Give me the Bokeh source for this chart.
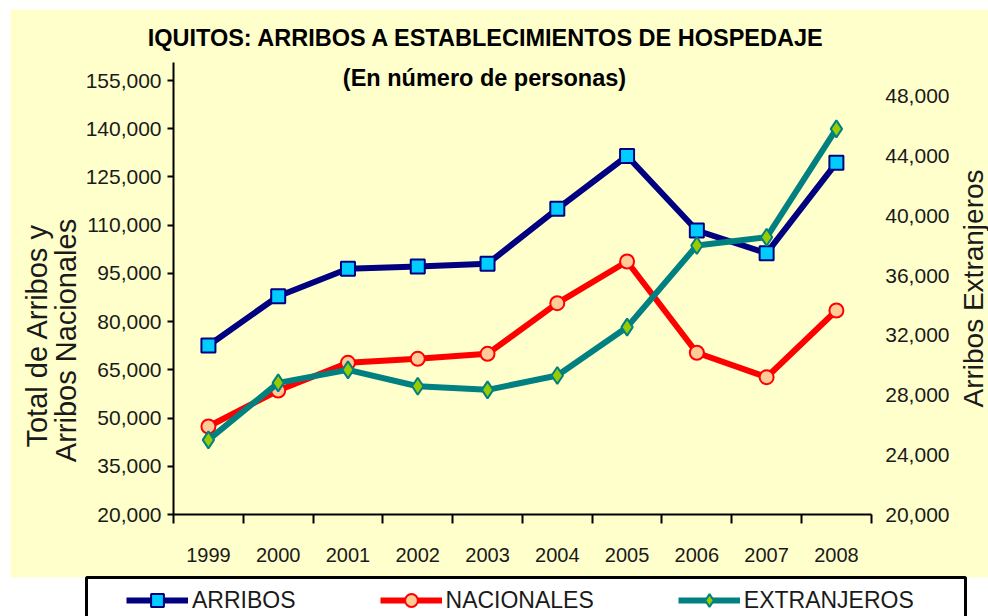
from math import pi
from bokeh.plotting import figure
from bokeh.models import (Range1d, LinearAxis, FixedTicker, NumeralTickFormatter,
                          Label, Legend, LegendItem, BoxAnnotation)
from bokeh.embed import file_html
from bokeh.resources import INLINE

# ---------------- data ----------------
years = ["1999", "2000", "2001", "2002", "2003", "2004", "2005", "2006", "2007", "2008"]
year_pos = [1999, 2000, 2001, 2002, 2003, 2004, 2005, 2006, 2007, 2008]
arribos = [72580, 87910, 96440, 97150, 97990, 115100, 131530, 108350, 101290, 129410]
nacionales = [47380, 58580, 67190, 68440, 69990, 85740, 98710, 70310, 62710, 83460]
extranjeros = [25000, 28820, 29690, 28590, 28350, 29310, 32550, 38020, 38570, 45830]
left_ticks = [20000, 35000, 50000, 65000, 80000, 95000, 110000, 125000, 140000, 155000]
right_ticks = [20000, 24000, 28000, 32000, 36000, 40000, 44000, 48000]

title_text = "IQUITOS: ARRIBOS A ESTABLECIMIENTOS DE HOSPEDAJE"
subtitle_text = "(En número de personas)"
left_title = ["Total de Arribos y", "Arribos Nacionales"]
right_title = "Arribos Extranjeros"
series_names = ["ARRIBOS", "NACIONALES", "EXTRANJEROS"]

# ---------------- style ----------------
BG = "#FFFFCC"
FONT = "Liberation Sans"
TXT = "#1a1a1a"
W, H = 988, 616

# The plot frame fills the whole canvas; axes are pinned at fixed data locations
p = figure(width=W, height=H, output_backend="svg", toolbar_location=None,
           x_range=Range1d(1996.02, 2010.18), y_range=Range1d(-11730, 179900),
           min_border=0, min_border_left=0, min_border_right=0,
           min_border_top=0, min_border_bottom=0,
           background_fill_color=BG, border_fill_color=BG, outline_line_color=None)
p.title.visible = False
p.extra_y_ranges = {"ext": Range1d(13170, 54430)}
p.xgrid.visible = False
p.ygrid.visible = False

x_lo, x_hi = year_pos[0] - 0.5, year_pos[-1] + 0.5
bounds = [y - 0.5 for y in year_pos] + [x_hi]

xa = p.xaxis[0]
xa.fixed_location = left_ticks[0]
xa.bounds = (x_lo, x_hi)
xa.ticker = FixedTicker(ticks=year_pos, minor_ticks=bounds)
xa.major_label_overrides = {yp: lab for yp, lab in zip(year_pos, years)}
xa.axis_line_color = "black"
xa.axis_line_width = 2
xa.major_tick_line_color = None
xa.major_tick_out = 0
xa.major_tick_in = 0
xa.minor_tick_line_color = "black"
xa.minor_tick_line_width = 2
xa.minor_tick_out = 9
xa.minor_tick_in = 0
xa.major_label_standoff = 24
xa.major_label_text_font = FONT
xa.major_label_text_font_size = "20px"
xa.major_label_text_color = TXT

ya = p.yaxis[0]
ya.fixed_location = x_lo
ya.bounds = (left_ticks[0], 160600)
ya.ticker = FixedTicker(ticks=left_ticks)
ya.formatter = NumeralTickFormatter(format="0,0")
ya.axis_line_color = "black"
ya.axis_line_width = 2
ya.major_tick_line_color = "black"
ya.major_tick_line_width = 2
ya.major_tick_out = 6
ya.major_tick_in = 0
ya.minor_tick_line_color = None
ya.major_label_standoff = 6
ya.major_label_text_font = FONT
ya.major_label_text_font_size = "21px"
ya.major_label_text_color = TXT

ra = LinearAxis(y_range_name="ext", ticker=FixedTicker(ticks=right_ticks),
                formatter=NumeralTickFormatter(format="0,0"))
ra.fixed_location = x_hi
ra.axis_line_color = None
ra.major_tick_line_color = None
ra.minor_tick_line_color = None
ra.major_tick_out = 0
ra.major_tick_in = 0
ra.major_label_standoff = 14
ra.major_label_text_font = FONT
ra.major_label_text_font_size = "21px"
ra.major_label_text_color = TXT
p.add_layout(ra, "right")

# ---------------- series ----------------
l1 = p.line(year_pos, arribos, line_color="#000080", line_width=6, line_join="round")
s1 = p.scatter(year_pos, arribos, marker="square", size=14, fill_color="#00CCFF",
               line_color="#000080", line_width=2)
l2 = p.line(year_pos, nacionales, line_color="#FF0000", line_width=6, line_join="round")
s2 = p.scatter(year_pos, nacionales, marker="circle", size=14, fill_color="#FFCC99",
               line_color="#FF0000", line_width=2)
l3 = p.line(year_pos, extranjeros, line_color="#008080", line_width=6, line_join="round",
            y_range_name="ext")
s3 = p.scatter(year_pos, extranjeros, marker="diamond", size=17, fill_color="#99CC00",
               line_color="#008080", line_width=2, y_range_name="ext")

# ---------------- texts (screen px, origin bottom-left of canvas) ----------------
def add_label(x, y, text, size, bold=False, angle=0.0, color=TXT):
    p.add_layout(Label(x=x, y=y, x_units="screen", y_units="screen", text=text,
                       angle=angle, text_align="center", text_baseline="middle",
                       text_font=FONT, text_font_size=size,
                       text_font_style="bold" if bold else "normal", text_color=color))

add_label(486, H - 37, title_text, "23.5px", bold=True, color="black")
add_label(484, H - 77, subtitle_text, "23.5px", bold=True, color="black")
add_label(36, H - 335, left_title[0], "29px", angle=pi / 2)
add_label(65, H - 340, left_title[1], "29px", angle=pi / 2)
add_label(973, H - 288, right_title, "28px", angle=pi / 2)

# ---------------- white page strips and legend box ----------------
def add_box(left, right, bottom, top, line=None):
    p.add_layout(BoxAnnotation(left=left, right=right, bottom=bottom, top=top,
                               left_units="screen", right_units="screen",
                               bottom_units="screen", top_units="screen",
                               fill_color="white", fill_alpha=1,
                               line_color=line, line_alpha=1, line_width=3))

add_box(0, W, H - 9, H + 5)          # top white strip
add_box(-5, 10, -5, H + 5)           # left white strip
add_box(-5, W + 5, -5, H - 577)      # bottom white strip
add_box(86, 965, -20, H - 577, line="black")   # legend frame

legend = Legend(items=[LegendItem(label=series_names[0], renderers=[l1, s1]),
                       LegendItem(label=series_names[1], renderers=[l2, s2]),
                       LegendItem(label=series_names[2], renderers=[l3, s3])],
                location=(126, 0), orientation="horizontal",
                background_fill_alpha=0, border_line_color=None,
                label_text_font=FONT, label_text_font_size="23px", label_text_color=TXT,
                glyph_width=62, glyph_height=32, label_standoff=4, spacing=84,
                padding=4, margin=0)
p.add_layout(legend)

open("out.html", "w").write(file_html(p, INLINE))
